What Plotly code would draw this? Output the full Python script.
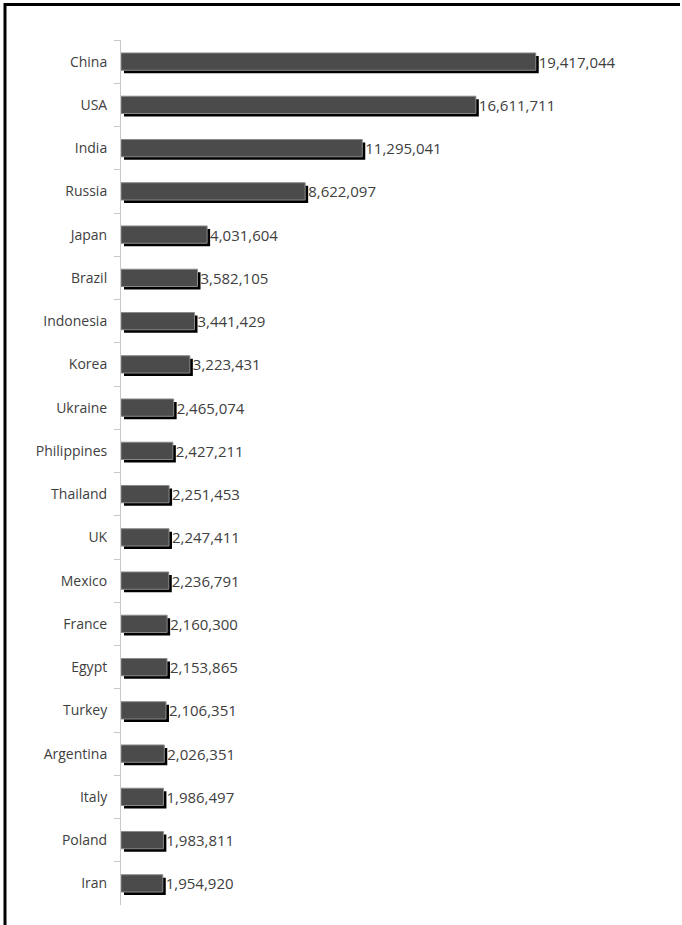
import plotly.graph_objects as go

# Countries and their values, largest first
countries = ["China", "USA", "India", "Russia", "Japan", "Brazil", "Indonesia",
             "Korea", "Ukraine", "Philippines", "Thailand", "UK", "Mexico",
             "France", "Egypt", "Turkey", "Argentina", "Italy", "Poland", "Iran"]
values = [19417044, 16611711, 11295041, 8622097, 4031604, 3582105, 3441429,
          3223431, 2465074, 2427211, 2251453, 2247411, 2236791, 2160300,
          2153865, 2106351, 2026351, 1986497, 1983811, 1954920]
value_labels = [f"{v:,}" for v in values]

W, H = 682, 925
ML, MR, MT, MB = 121, 27, 40, 20
X_MAX = 25_000_000
plot_w = W - ML - MR
plot_h = H - MT - MB

BAR_W = 0.4
# drop shadow offset: ~3px right and ~3px down, converted into axis units
shadow_dx = 3 * X_MAX / plot_w
shadow_dy = 3 * len(countries) / plot_h

FONT = "Open Sans"
TXT = "#404040"

fig = go.Figure()

# black drop shadow behind each bar
fig.add_trace(go.Bar(
    y=countries, x=values, base=shadow_dx, orientation="h",
    width=BAR_W, offset=-BAR_W / 2 + shadow_dy,
    marker=dict(color="#000000", line=dict(width=0)),
    hoverinfo="skip", showlegend=False,
))

# main bars with value labels
fig.add_trace(go.Bar(
    y=countries, x=values, orientation="h",
    width=BAR_W, offset=-BAR_W / 2,
    marker=dict(color="#4b4b4b", line=dict(color="#8a8a8a", width=1)),
    text=value_labels, textposition="outside", cliponaxis=False,
    constraintext="none",
    textfont=dict(family=FONT, size=15, color=TXT),
    showlegend=False,
))

def px_x(p):
    return (p - ML) / plot_w

def px_y(p):
    return (H - MB - p) / plot_h

# frame lines along the top and left edges of the page
fig.add_shape(type="line", xref="paper", yref="paper",
              x0=px_x(4), x1=px_x(680), y0=px_y(4.5), y1=px_y(4.5),
              line=dict(color="#000000", width=3))
fig.add_shape(type="line", xref="paper", yref="paper",
              x0=px_x(5), x1=px_x(5), y0=px_y(3), y1=px_y(925),
              line=dict(color="#000000", width=3))

fig.update_layout(
    width=W, height=H,
    margin=dict(l=ML, r=MR, t=MT, b=MB, pad=0),
    paper_bgcolor="#ffffff", plot_bgcolor="#ffffff",
    barmode="overlay",
    font=dict(family=FONT, size=14, color=TXT),
    xaxis=dict(range=[0, X_MAX], visible=False, showgrid=False, zeroline=False),
    yaxis=dict(
        type="category", categoryorder="array", categoryarray=countries,
        autorange="reversed", tickson="boundaries",
        ticks="outside", ticklen=6, tickcolor="#c8c8c8", tickwidth=1,
        showline=True, linecolor="#c8c8c8", linewidth=1,
        showgrid=False, zeroline=False,
        ticklabelstandoff=10,
        tickfont=dict(family=FONT, size=14, color=TXT),
    ),
)

fig.write_html("out.html")
